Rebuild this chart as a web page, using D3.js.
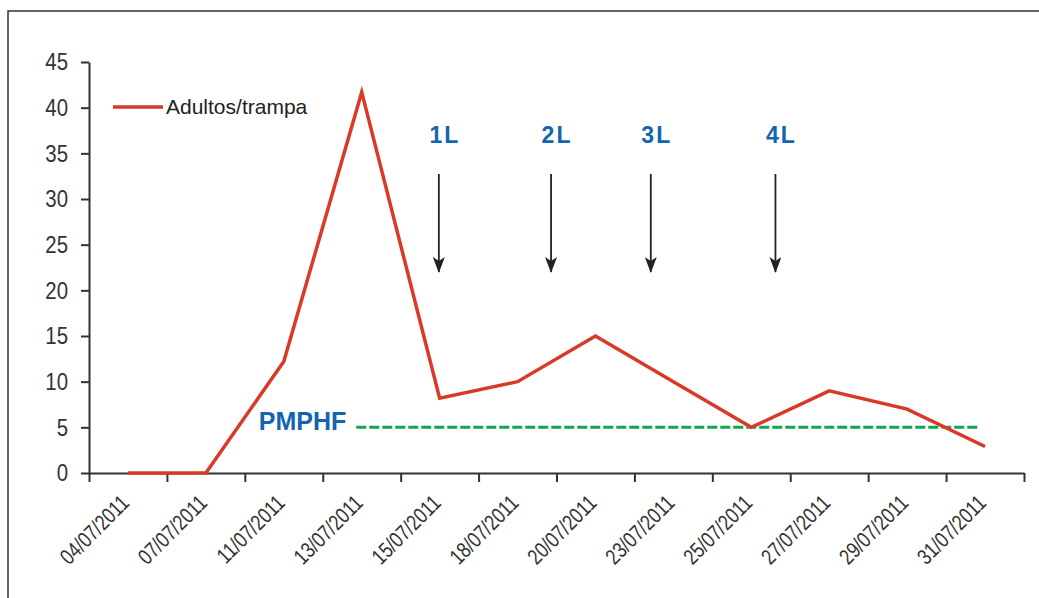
<!DOCTYPE html>
<html>
<head>
<meta charset="utf-8">
<script src="https://cdn.jsdelivr.net/npm/d3@7"></script>
<style>
  body { margin: 0; background: #fff; }
  svg { display: block; }
</style>
</head>
<body>
<div id="chart"></div>
<script>
// Data
const dates = ["04/07/2011","07/07/2011","11/07/2011","13/07/2011","15/07/2011","18/07/2011",
               "20/07/2011","23/07/2011","25/07/2011","27/07/2011","29/07/2011","31/07/2011"];
const adultos = [0, 0, 12.2, 41.7, 8.2, 10, 15, 10, 5, 9, 7, 2.9];
const yTicks = [0, 5, 10, 15, 20, 25, 30, 35, 40, 45];
const pmphfValue = 5;
const pmphfRange = [3.43, 11.42];          // in category-index units
const applications = ["1 L", "2 L", "3 L", "4 L"];
const applicationPos = [4.49, 5.93, 7.21, 8.81];

const width = 1039, height = 598;
const margin = { left: 89, right: 15, top: 62, bottom: 125 };
const font = "'Liberation Sans', Arial, sans-serif";
const red = "#d93a27", green = "#10a64e", blue = "#1464b0";
const squeeze = 0.8;   // condensed look of the axis labels

const svg = d3.select('#chart').append('svg')
  .attr('width', width)
  .attr('height', height);

// frame
svg.append('path')
  .attr('d', `M8,${height + 5} L8,11 L${width + 5},11`)
  .attr('fill', 'none')
  .attr('stroke', '#333')
  .attr('stroke-width', 1.5);

const x = d3.scaleLinear().domain([0, dates.length]).range([margin.left, 1024]);
const y = d3.scaleLinear().domain([0, 45]).range([473, margin.top]);

// y axis
const yAxis = svg.append('g')
  .attr('transform', `translate(${margin.left},0)`)
  .call(d3.axisLeft(y).tickValues(yTicks).tickSize(8).tickPadding(12).tickSizeOuter(0));
yAxis.select('.domain').attr('stroke', '#333').attr('stroke-width', 2);
yAxis.selectAll('.tick line').attr('stroke', '#333').attr('stroke-width', 2);
yAxis.selectAll('.tick text')
  .attr('x', 0)
  .attr('transform', `translate(-21,0) scale(${squeeze + 0.05},1)`)
  .attr('fill', '#333')
  .style('font-family', font)
  .style('font-size', '24px');

// x axis (ticks at category edges)
const xAxis = svg.append('g')
  .attr('transform', `translate(0,${y(0)})`)
  .call(d3.axisBottom(x).tickValues(d3.range(dates.length + 1)).tickSize(9).tickFormat('').tickSizeOuter(0));
xAxis.select('.domain').attr('stroke', '#333').attr('stroke-width', 2);
xAxis.selectAll('.tick line').attr('stroke', '#333').attr('stroke-width', 2);

svg.append('g').selectAll('text')
  .data(dates)
  .join('text')
  .attr('transform', (d, i) => `translate(${x(i + 0.5) - 3},${y(0) + 26}) rotate(-45) scale(${squeeze},1)`)
  .attr('text-anchor', 'end')
  .attr('dy', '0.35em')
  .attr('fill', '#333')
  .style('font-family', font)
  .style('font-size', '22px')
  .text(d => d);

// PMPHF threshold
svg.append('line')
  .attr('x1', x(pmphfRange[0]))
  .attr('x2', x(pmphfRange[1]))
  .attr('y1', y(pmphfValue))
  .attr('y2', y(pmphfValue))
  .attr('stroke', green)
  .attr('stroke-width', 3)
  .attr('stroke-dasharray', '10,3');

svg.append('text')
  .attr('x', x(pmphfRange[0]) - 10)
  .attr('y', y(pmphfValue) + 3)
  .attr('text-anchor', 'end')
  .attr('fill', blue)
  .style('font-family', font)
  .style('font-weight', 'bold')
  .style('font-size', '25px')
  .text('PMPHF');

// series line
const line = d3.line()
  .x((d, i) => x(i + 0.5))
  .y(d => y(d));

svg.append('path')
  .datum(adultos)
  .attr('d', line)
  .attr('fill', 'none')
  .attr('stroke', red)
  .attr('stroke-width', 3.5)
  .attr('stroke-linejoin', 'miter');

// application arrows
svg.append('defs').append('marker')
  .attr('id', 'arrow')
  .attr('viewBox', '0 0 16 12')
  .attr('refX', 15).attr('refY', 6)
  .attr('markerWidth', 16).attr('markerHeight', 12)
  .attr('markerUnits', 'userSpaceOnUse')
  .attr('orient', 'auto')
  .append('path')
  .attr('d', 'M0,0 L16,6 L0,12 L4,6 Z')
  .attr('fill', '#222');

const arrows = svg.append('g').selectAll('g')
  .data(applications)
  .join('g');

arrows.append('line')
  .attr('x1', (d, i) => x(applicationPos[i]))
  .attr('x2', (d, i) => x(applicationPos[i]))
  .attr('y1', 174)
  .attr('y2', 272)
  .attr('stroke', '#222')
  .attr('stroke-width', 1.8)
  .attr('marker-end', 'url(#arrow)');

arrows.append('text')
  .attr('x', (d, i) => x(applicationPos[i]) + 6)
  .attr('y', 143)
  .attr('text-anchor', 'middle')
  .attr('fill', blue)
  .style('font-family', font)
  .style('font-weight', 'bold')
  .style('font-size', '23px')
  .style('letter-spacing', '2px')
  .text(d => d.replace(' ', ''));

// legend
const legend = svg.append('g').attr('transform', 'translate(113,107)');
legend.append('line')
  .attr('x1', 0).attr('x2', 50)
  .attr('stroke', red)
  .attr('stroke-width', 3.5);
legend.append('text')
  .attr('x', 53)
  .attr('dy', '0.35em')
  .attr('fill', '#222')
  .style('font-family', font)
  .style('font-size', '21px')
  .text('Adultos/trampa');
</script>
</body>
</html>
